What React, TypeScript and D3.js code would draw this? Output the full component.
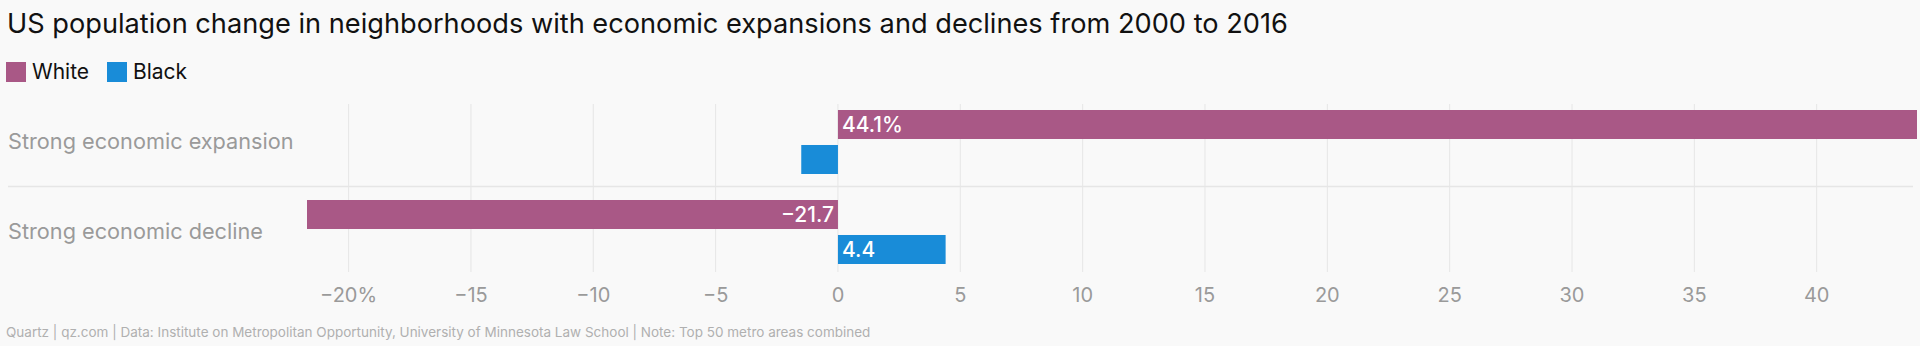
import React from "react";
import * as d3 from "d3";

const categories = ["Strong economic expansion", "Strong economic decline"];
const seriesNames = ["White", "Black"];
const whiteValues = [44.1, -21.7];
const blackValues = [-1.5, 4.4];
const barLabelsWhite = ["44.1%", "−21.7"];
const barLabelsBlack = ["", "4.4"];
const tickValues = [-20, -15, -10, -5, 0, 5, 10, 15, 20, 25, 30, 35, 40];
const tickLabels = ["−20%", "−15", "−10", "−5", "0", "5", "10", "15", "20", "25", "30", "35", "40"];

const title = "US population change in neighborhoods with economic expansions and declines from 2000 to 2016";
const footer = "Quartz | qz.com | Data: Institute on Metropolitan Opportunity, University of Minnesota Law School | Note: Top 50 metro areas combined";

const COLORS = ["#a95886", "#198cd8"];
const FONT = "Inter, Roboto, 'Noto Sans', sans-serif";

export default function App() {
  const W = 1920;
  const H = 346;
  const x = d3.scaleLinear().domain([d3.min(whiteValues.concat(blackValues))!, d3.max(whiteValues.concat(blackValues))!]).range([307, 1917]);
  const y = d3.scaleBand<string>().domain(categories).range([104, 284]).paddingInner(0).paddingOuter(0);
  const sub = d3.scaleBand<string>().domain(seriesNames).range([6, 70]).paddingInner(0.171);
  const series = [whiteValues, blackValues];
  const labels = [barLabelsWhite, barLabelsBlack];
  const x0 = x(0);

  return (
    <svg width={W} height={H} style={{ position: "absolute", left: 0, top: 0, display: "block" }} fontFamily={FONT}>
      <rect x={0} y={0} width={W} height={H} fill="#f9f9f9" />
      <text x={7} y={33} fontSize={27.2} fill="#111">{title}</text>
      {seriesNames.map((s, i) => {
        const lx = [6, 107][i];
        return (
          <g key={s}>
            <rect x={lx} y={62} width={20} height={20} fill={COLORS[i]} />
            <text x={lx + 26} y={79} fontSize={21} fill="#111">{s}</text>
          </g>
        );
      })}
      {tickValues.map((t, i) => (
        <g key={t}>
          <line x1={x(t)} x2={x(t)} y1={104} y2={272} stroke="#e6e6e6" strokeWidth={1} />
          <text x={x(t)} y={302} fontSize={20} fill="#9a9a9a" textAnchor="middle">{tickLabels[i]}</text>
        </g>
      ))}
      <line x1={8} x2={1913} y1={186.5} y2={186.5} stroke="#e6e6e6" strokeWidth={1.5} />
      {categories.map((c, ci) => (
        <g key={c}>
          <text x={8} y={y(c)! + y.bandwidth() / 2 + 0} fontSize={21.7} fill="#9a9a9a">{c}</text>
          {series.map((vals, si) => {
            const v = vals[ci];
            const by = y(c)! + sub(seriesNames[si])!;
            const bh = sub.bandwidth();
            const bx = Math.min(x(v), x0);
            const bw = Math.abs(x(v) - x0);
            const lab = labels[si][ci];
            return (
              <g key={si}>
                <rect x={bx} y={by} width={bw} height={bh} fill={COLORS[si]} />
                {lab && (
                  <text
                    x={v >= 0 ? x0 + 4 : x0 - 4}
                    y={by + bh / 2 + 7.5}
                    fontSize={21}
                    fontWeight={500}
                    fill="#fff"
                    textAnchor={v >= 0 ? "start" : "end"}
                  >
                    {lab}
                  </text>
                )}
              </g>
            );
          })}
        </g>
      ))}
      <text x={6} y={337} fontSize={13.5} fill="#b0b0b0">{footer}</text>
    </svg>
  );
}
